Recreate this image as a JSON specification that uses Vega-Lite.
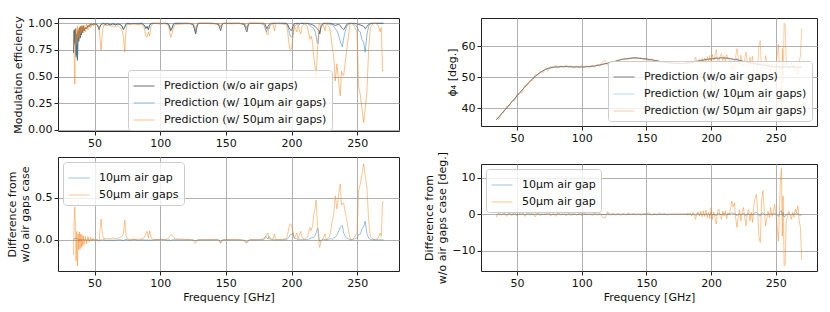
{
"$schema": "https://vega.github.io/schema/vega-lite/v6.json",
"padding": {"left": 6, "top": 15, "right": 0, "bottom": 0},
"background": "white",
"datasets": {
"eff": [
{"f":34,"a":0.72,"b":0.73,"c":0.9,"d":-0.01,"e":-0.18},
{"f":34.5,"a":0.94,"b":0.93,"c":0.7,"d":0.01,"e":0.24},
{"f":35,"a":0.82,"b":0.8,"c":0.43,"d":0.02,"e":0.39},
{"f":35.5,"a":0.95,"b":0.94,"c":0.86,"d":0.01,"e":0.09},
{"f":36,"a":0.7,"b":0.68,"c":0.95,"d":0.02,"e":-0.25},
{"f":36.5,"a":0.9,"b":0.88,"c":0.8,"d":0.02,"e":0.1},
{"f":37,"a":0.66,"b":0.65,"c":0.97,"d":0.01,"e":-0.31},
{"f":37.5,"a":0.93,"b":0.92,"c":0.86,"d":0.01,"e":0.07},
{"f":38,"a":0.83,"b":0.85,"c":0.95,"d":-0.02,"e":-0.12},
{"f":38.5,"a":0.96,"b":0.95,"c":0.87,"d":0.01,"e":0.09},
{"f":39,"a":0.86,"b":0.87,"c":0.97,"d":-0.01,"e":-0.11},
{"f":39.5,"a":0.97,"b":0.96,"c":0.9,"d":0.01,"e":0.07},
{"f":40,"a":0.89,"b":0.89,"c":0.98,"d":0,"e":-0.09},
{"f":40.5,"a":0.97,"b":0.97,"c":0.91,"d":0,"e":0.06},
{"f":41,"a":0.91,"b":0.91,"c":0.98,"d":0,"e":-0.07},
{"f":41.5,"a":0.975,"b":0.97,"c":0.93,"d":0.005,"e":0.045},
{"f":42,"a":0.93,"b":0.93,"c":0.985,"d":0,"e":-0.055},
{"f":43,"a":0.96,"b":0.955,"c":0.92,"d":0.005,"e":0.04},
{"f":44,"a":0.95,"b":0.955,"c":0.995,"d":-0.005,"e":-0.045},
{"f":45,"a":0.98,"b":0.975,"c":0.94,"d":0.005,"e":0.04},
{"f":46,"a":0.97,"b":0.975,"c":0.995,"d":-0.005,"e":-0.025},
{"f":47,"a":0.99,"b":0.985,"c":0.96,"d":0.005,"e":0.03},
{"f":48,"a":0.985,"b":0.99,"c":1,"d":-0.005,"e":-0.015},
{"f":49,"a":0.995,"b":0.99,"c":0.975,"d":0.005,"e":0.02},
{"f":50,"a":0.99,"b":0.995,"c":1,"d":-0.005,"e":-0.01},
{"f":51,"a":0.995,"b":1,"c":0.985,"d":-0.005,"e":0.01},
{"f":52,"a":0.985,"b":0.985,"c":0.99,"d":0,"e":-0.005},
{"f":53,"a":0.96,"b":0.965,"c":0.975,"d":-0.005,"e":-0.015},
{"f":53.5,"a":0.94,"b":0.95,"c":0.96,"d":-0.01,"e":-0.02},
{"f":54,"a":0.965,"b":0.97,"c":0.88,"d":-0.005,"e":0.085},
{"f":55,"a":0.99,"b":0.99,"c":0.745,"d":0,"e":0.245},
{"f":56,"a":0.995,"b":1,"c":0.93,"d":-0.005,"e":0.065},
{"f":57,"a":1,"b":0.995,"c":0.985,"d":0.005,"e":0.015},
{"f":58,"a":0.99,"b":0.995,"c":0.975,"d":-0.005,"e":0.015},
{"f":60,"a":0.995,"b":1,"c":0.98,"d":-0.005,"e":0.015},
{"f":62,"a":0.985,"b":0.99,"c":0.975,"d":-0.005,"e":0.01},
{"f":64,"a":0.995,"b":1,"c":0.975,"d":-0.005,"e":0.02},
{"f":66,"a":0.985,"b":0.99,"c":0.97,"d":-0.005,"e":0.015},
{"f":68,"a":0.995,"b":0.995,"c":0.975,"d":0,"e":0.02},
{"f":70,"a":0.985,"b":0.985,"c":0.955,"d":0,"e":0.03},
{"f":71,"a":0.97,"b":0.975,"c":0.93,"d":-0.005,"e":0.04},
{"f":72,"a":0.94,"b":0.95,"c":0.87,"d":-0.01,"e":0.07},
{"f":73,"a":0.965,"b":0.965,"c":0.73,"d":0,"e":0.235},
{"f":74,"a":0.995,"b":0.99,"c":0.94,"d":0.005,"e":0.055},
{"f":75,"a":1,"b":1,"c":0.99,"d":0,"e":0.01},
{"f":77,"a":0.995,"b":1,"c":0.99,"d":-0.005,"e":0.005},
{"f":80,"a":1,"b":0.995,"c":0.995,"d":0.005,"e":0.005},
{"f":83,"a":0.995,"b":1,"c":0.99,"d":-0.005,"e":0.005},
{"f":86,"a":1,"b":1,"c":0.99,"d":0,"e":0.01},
{"f":88,"a":0.98,"b":0.98,"c":0.95,"d":0,"e":0.03},
{"f":89,"a":0.95,"b":0.955,"c":0.88,"d":-0.005,"e":0.07},
{"f":90,"a":0.97,"b":0.97,"c":0.87,"d":0,"e":0.1},
{"f":91,"a":0.94,"b":0.945,"c":0.92,"d":-0.005,"e":0.02},
{"f":92,"a":0.985,"b":0.985,"c":0.88,"d":0,"e":0.105},
{"f":93,"a":0.995,"b":1,"c":0.975,"d":-0.005,"e":0.02},
{"f":95,"a":1,"b":1,"c":1,"d":0,"e":0},
{"f":100,"a":1,"b":0.995,"c":1,"d":0.005,"e":0},
{"f":104,"a":1,"b":1,"c":0.995,"d":0,"e":0.005},
{"f":106,"a":0.995,"b":1,"c":0.985,"d":-0.005,"e":0.01},
{"f":107,"a":0.975,"b":0.975,"c":0.94,"d":0,"e":0.035},
{"f":108,"a":0.93,"b":0.94,"c":0.87,"d":-0.01,"e":0.06},
{"f":109,"a":0.955,"b":0.955,"c":0.905,"d":0,"e":0.05},
{"f":110,"a":0.99,"b":0.99,"c":0.95,"d":0,"e":0.04},
{"f":111,"a":1,"b":1,"c":0.99,"d":0,"e":0.01},
{"f":114,"a":1,"b":1,"c":0.99,"d":0,"e":0.01},
{"f":118,"a":1,"b":1,"c":0.995,"d":0,"e":0.005},
{"f":122,"a":1,"b":1,"c":0.995,"d":0,"e":0.005},
{"f":125,"a":0.99,"b":0.99,"c":1,"d":0,"e":-0.01},
{"f":126,"a":0.95,"b":0.96,"c":0.98,"d":-0.01,"e":-0.03},
{"f":127,"a":0.9,"b":0.91,"c":0.94,"d":-0.01,"e":-0.04},
{"f":128,"a":0.97,"b":0.975,"c":0.99,"d":-0.005,"e":-0.02},
{"f":129,"a":1,"b":1,"c":1,"d":0,"e":0},
{"f":135,"a":1,"b":1,"c":1,"d":0,"e":0},
{"f":140,"a":1,"b":1,"c":0.995,"d":0,"e":0.005},
{"f":144,"a":0.995,"b":0.99,"c":1,"d":0.005,"e":-0.005},
{"f":145,"a":0.97,"b":0.975,"c":0.99,"d":-0.005,"e":-0.02},
{"f":146,"a":0.93,"b":0.965,"c":0.97,"d":-0.035,"e":-0.04},
{"f":147,"a":0.98,"b":0.985,"c":1,"d":-0.005,"e":-0.02},
{"f":148,"a":1,"b":1,"c":1,"d":0,"e":0},
{"f":155,"a":1,"b":1,"c":0.995,"d":0,"e":0.005},
{"f":160,"a":1,"b":1,"c":1,"d":0,"e":0},
{"f":164,"a":0.99,"b":0.995,"c":1,"d":-0.005,"e":-0.01},
{"f":165,"a":0.95,"b":0.97,"c":0.985,"d":-0.02,"e":-0.035},
{"f":166,"a":0.92,"b":0.95,"c":0.96,"d":-0.03,"e":-0.04},
{"f":167,"a":0.98,"b":0.99,"c":1,"d":-0.01,"e":-0.02},
{"f":168,"a":1,"b":1,"c":1,"d":0,"e":0},
{"f":175,"a":1,"b":1,"c":1,"d":0,"e":0},
{"f":179,"a":1,"b":0.99,"c":1,"d":0.01,"e":0},
{"f":180,"a":0.99,"b":0.95,"c":0.97,"d":0.04,"e":0.02},
{"f":181,"a":0.95,"b":0.92,"c":0.9,"d":0.03,"e":0.05},
{"f":182,"a":0.97,"b":0.96,"c":0.89,"d":0.01,"e":0.08},
{"f":183,"a":0.99,"b":0.95,"c":0.98,"d":0.04,"e":0.01},
{"f":184,"a":1,"b":0.99,"c":1,"d":0.01,"e":0},
{"f":186,"a":1,"b":1,"c":0.99,"d":0,"e":0.01},
{"f":187,"a":1,"b":1,"c":0.93,"d":0,"e":0.07},
{"f":188,"a":1,"b":1,"c":1,"d":0,"e":0},
{"f":192,"a":1,"b":1,"c":0.995,"d":0,"e":0.005},
{"f":196,"a":1,"b":1,"c":0.99,"d":0,"e":0.01},
{"f":197,"a":0.99,"b":0.98,"c":0.93,"d":0.01,"e":0.06},
{"f":198,"a":0.96,"b":0.93,"c":0.81,"d":0.03,"e":0.15},
{"f":199,"a":0.94,"b":0.88,"c":0.75,"d":0.06,"e":0.19},
{"f":200,"a":0.93,"b":0.87,"c":0.76,"d":0.06,"e":0.17},
{"f":201,"a":0.97,"b":0.89,"c":0.86,"d":0.08,"e":0.11},
{"f":202,"a":0.995,"b":0.97,"c":0.98,"d":0.025,"e":0.015},
{"f":204,"a":1,"b":0.99,"c":0.92,"d":0.01,"e":0.08},
{"f":205,"a":1,"b":1,"c":0.99,"d":0,"e":0.01},
{"f":206,"a":0.995,"b":0.99,"c":0.93,"d":0.005,"e":0.065},
{"f":207,"a":1,"b":1,"c":0.9,"d":0,"e":0.1},
{"f":208,"a":1,"b":1,"c":0.97,"d":0,"e":0.03},
{"f":210,"a":1,"b":0.995,"c":1,"d":0.005,"e":0},
{"f":212,"a":1,"b":1,"c":0.97,"d":0,"e":0.03},
{"f":214,"a":0.995,"b":0.98,"c":0.85,"d":0.015,"e":0.145},
{"f":215,"a":0.99,"b":0.97,"c":0.88,"d":0.02,"e":0.11},
{"f":216,"a":0.985,"b":0.96,"c":0.82,"d":0.025,"e":0.165},
{"f":217,"a":0.98,"b":0.95,"c":0.68,"d":0.03,"e":0.3},
{"f":218,"a":0.97,"b":0.92,"c":0.58,"d":0.05,"e":0.39},
{"f":218.7,"a":0.96,"b":0.88,"c":0.49,"d":0.08,"e":0.47},
{"f":219.5,"a":0.95,"b":0.82,"c":0.7,"d":0.13,"e":0.25},
{"f":220.2,"a":0.94,"b":0.81,"c":0.85,"d":0.13,"e":0.09},
{"f":221,"a":0.93,"b":0.92,"c":1,"d":0.01,"e":-0.07},
{"f":221.5,"a":0.9,"b":0.92,"c":0.99,"d":-0.02,"e":-0.09},
{"f":222.5,"a":0.97,"b":0.98,"c":0.98,"d":-0.01,"e":-0.01},
{"f":224,"a":1,"b":0.99,"c":0.99,"d":0.01,"e":0.01},
{"f":225.5,"a":1,"b":1,"c":0.93,"d":0,"e":0.07},
{"f":226.5,"a":1,"b":1,"c":1,"d":0,"e":0},
{"f":229,"a":1,"b":0.99,"c":0.96,"d":0.01,"e":0.04},
{"f":230,"a":1,"b":0.985,"c":0.88,"d":0.015,"e":0.12},
{"f":231,"a":0.995,"b":0.99,"c":0.77,"d":0.005,"e":0.225},
{"f":232,"a":0.99,"b":0.97,"c":0.7,"d":0.02,"e":0.29},
{"f":233.3,"a":0.98,"b":0.95,"c":0.46,"d":0.03,"e":0.52},
{"f":234.5,"a":0.985,"b":0.93,"c":0.62,"d":0.055,"e":0.365},
{"f":235.5,"a":0.99,"b":0.9,"c":0.5,"d":0.09,"e":0.49},
{"f":236.5,"a":0.985,"b":0.86,"c":0.38,"d":0.125,"e":0.605},
{"f":237.1,"a":0.98,"b":0.83,"c":0.32,"d":0.15,"e":0.66},
{"f":238,"a":0.96,"b":0.8,"c":0.55,"d":0.16,"e":0.41},
{"f":238.7,"a":0.95,"b":0.78,"c":0.52,"d":0.17,"e":0.43},
{"f":239.7,"a":0.94,"b":0.86,"c":0.51,"d":0.08,"e":0.43},
{"f":241,"a":0.965,"b":0.93,"c":0.65,"d":0.035,"e":0.315},
{"f":242,"a":0.99,"b":0.97,"c":0.75,"d":0.02,"e":0.24},
{"f":243.5,"a":1,"b":0.99,"c":0.9,"d":0.01,"e":0.1},
{"f":244.5,"a":1,"b":1,"c":0.99,"d":0,"e":0.01},
{"f":246,"a":1,"b":1,"c":1,"d":0,"e":0},
{"f":248,"a":1,"b":0.99,"c":0.97,"d":0.01,"e":0.03},
{"f":249.8,"a":0.995,"b":0.97,"c":0.915,"d":0.025,"e":0.08},
{"f":250.5,"a":0.99,"b":0.95,"c":0.65,"d":0.04,"e":0.34},
{"f":251,"a":0.99,"b":0.93,"c":0.41,"d":0.06,"e":0.58},
{"f":252.3,"a":0.985,"b":0.92,"c":0.33,"d":0.065,"e":0.655},
{"f":253.6,"a":0.98,"b":0.85,"c":0.2,"d":0.13,"e":0.78},
{"f":254.9,"a":0.97,"b":0.82,"c":0.07,"d":0.15,"e":0.9},
{"f":256.1,"a":0.95,"b":0.73,"c":0.2,"d":0.22,"e":0.75},
{"f":257.4,"a":0.97,"b":0.9,"c":0.36,"d":0.07,"e":0.61},
{"f":258.7,"a":0.99,"b":0.97,"c":0.76,"d":0.02,"e":0.23},
{"f":260,"a":1,"b":0.995,"c":0.96,"d":0.005,"e":0.04},
{"f":262,"a":1,"b":1,"c":0.995,"d":0,"e":0.005},
{"f":264,"a":1,"b":1,"c":1,"d":0,"e":0},
{"f":266,"a":1,"b":1,"c":0.98,"d":0,"e":0.02},
{"f":267.5,"a":1,"b":1,"c":0.92,"d":0,"e":0.08},
{"f":268.3,"a":1,"b":1,"c":0.96,"d":0,"e":0.04},
{"f":269.3,"a":1,"b":1,"c":0.55,"d":0,"e":0.45},
{"f":270,"a":1,"b":1,"c":0.56,"d":0,"e":0.44}
],
"phi": [
{"f":34,"p":36.3,"q":36.5,"r":37.2,"s":-0.2,"t":-0.9},
{"f":36,"p":37.2,"q":37.1,"r":36.4,"s":0.1,"t":0.8},
{"f":38,"p":38.2,"q":38.3,"r":38.5,"s":-0.1,"t":-0.3},
{"f":40,"p":39.2,"q":39.1,"r":38.7,"s":0.1,"t":0.5},
{"f":42,"p":40.1,"q":40.2,"r":40.7,"s":-0.1,"t":-0.6},
{"f":44,"p":41.1,"q":41.0,"r":40.8,"s":0.1,"t":0.3},
{"f":46,"p":42.1,"q":42.1,"r":42.5,"s":0,"t":-0.4},
{"f":48,"p":43.0,"q":42.9,"r":42.4,"s":0.1,"t":0.6},
{"f":50,"p":44.0,"q":44.1,"r":44.5,"s":-0.1,"t":-0.5},
{"f":52,"p":45.0,"q":45.0,"r":44.8,"s":0,"t":0.2},
{"f":54,"p":45.9,"q":45.8,"r":45.1,"s":0.1,"t":0.8},
{"f":56,"p":46.9,"q":47.0,"r":47.5,"s":-0.1,"t":-0.6},
{"f":58,"p":47.8,"q":47.8,"r":47.4,"s":0,"t":0.4},
{"f":60,"p":48.7,"q":48.6,"r":49.0,"s":0.1,"t":-0.3},
{"f":62,"p":49.5,"q":49.6,"r":49.0,"s":-0.1,"t":0.5},
{"f":64,"p":50.3,"q":50.3,"r":51.0,"s":0,"t":-0.7},
{"f":66,"p":51.0,"q":50.9,"r":50.7,"s":0.1,"t":0.3},
{"f":68,"p":51.6,"q":51.6,"r":52.0,"s":0,"t":-0.4},
{"f":70,"p":52.1,"q":52.2,"r":51.5,"s":-0.1,"t":0.6},
{"f":72,"p":52.6,"q":52.6,"r":52.8,"s":0,"t":-0.2},
{"f":74,"p":52.9,"q":52.8,"r":52.0,"s":0.1,"t":0.9},
{"f":76,"p":53.1,"q":53.1,"r":53.6,"s":0,"t":-0.5},
{"f":78,"p":53.3,"q":53.4,"r":53.0,"s":-0.1,"t":0.3},
{"f":80,"p":53.4,"q":53.4,"r":54.0,"s":0,"t":-0.6},
{"f":82,"p":53.4,"q":53.3,"r":53.0,"s":0.1,"t":0.4},
{"f":84,"p":53.5,"q":53.5,"r":53.8,"s":0,"t":-0.3},
{"f":86,"p":53.5,"q":53.6,"r":53.0,"s":-0.1,"t":0.5},
{"f":88,"p":53.5,"q":53.5,"r":54.0,"s":0,"t":-0.5},
{"f":90,"p":53.5,"q":53.4,"r":53.3,"s":0.1,"t":0.2},
{"f":92,"p":53.4,"q":53.4,"r":53.8,"s":0,"t":-0.4},
{"f":94,"p":53.4,"q":53.4,"r":52.9,"s":0,"t":0.5},
{"f":96,"p":53.4,"q":53.5,"r":53.7,"s":-0.1,"t":-0.3},
{"f":98,"p":53.4,"q":53.4,"r":53.0,"s":0,"t":0.4},
{"f":100,"p":53.4,"q":53.3,"r":53.9,"s":0.1,"t":-0.5},
{"f":102,"p":53.4,"q":53.4,"r":53.1,"s":0,"t":0.3},
{"f":104,"p":53.5,"q":53.5,"r":53.7,"s":0,"t":-0.2},
{"f":106,"p":53.5,"q":53.6,"r":53.0,"s":-0.1,"t":0.5},
{"f":108,"p":53.6,"q":53.6,"r":54.0,"s":0,"t":-0.4},
{"f":110,"p":53.7,"q":53.6,"r":53.4,"s":0.1,"t":0.3},
{"f":112,"p":53.9,"q":53.9,"r":54.2,"s":0,"t":-0.3},
{"f":114,"p":54.0,"q":54.0,"r":53.6,"s":0,"t":0.4},
{"f":116,"p":54.2,"q":54.3,"r":55.0,"s":-0.1,"t":-0.8},
{"f":118,"p":54.4,"q":54.5,"r":55.5,"s":-0.1,"t":-1.1},
{"f":120,"p":54.6,"q":54.5,"r":53.9,"s":0.1,"t":0.7},
{"f":122,"p":54.8,"q":54.8,"r":55.1,"s":0,"t":-0.3},
{"f":124,"p":55.0,"q":55.0,"r":54.7,"s":0,"t":0.3},
{"f":126,"p":55.2,"q":55.2,"r":55.4,"s":0,"t":-0.2},
{"f":128,"p":55.5,"q":55.5,"r":55.3,"s":0,"t":0.2},
{"f":130,"p":55.7,"q":55.7,"r":56.0,"s":0,"t":-0.3},
{"f":132,"p":55.9,"q":55.9,"r":55.7,"s":0,"t":0.2},
{"f":134,"p":56.0,"q":56.0,"r":56.2,"s":0,"t":-0.2},
{"f":136,"p":56.1,"q":56.1,"r":55.8,"s":0,"t":0.3},
{"f":138,"p":56.2,"q":56.2,"r":56.3,"s":0,"t":-0.1},
{"f":140,"p":56.3,"q":56.3,"r":56.1,"s":0,"t":0.2},
{"f":142,"p":56.3,"q":56.3,"r":56.5,"s":0,"t":-0.2},
{"f":144,"p":56.2,"q":56.2,"r":56.1,"s":0,"t":0.1},
{"f":146,"p":56.1,"q":56.1,"r":56.4,"s":0,"t":-0.3},
{"f":148,"p":56.0,"q":56.0,"r":55.8,"s":0,"t":0.2},
{"f":150,"p":56.0,"q":56.0,"r":55.9,"s":0,"t":0.1},
{"f":152,"p":55.8,"q":55.8,"r":55.4,"s":0,"t":0.4},
{"f":154,"p":55.7,"q":55.7,"r":56.0,"s":0,"t":-0.3},
{"f":156,"p":55.5,"q":55.5,"r":55.3,"s":0,"t":0.2},
{"f":158,"p":55.4,"q":55.4,"r":55.6,"s":0,"t":-0.2},
{"f":160,"p":55.2,"q":55.2,"r":54.9,"s":0,"t":0.3},
{"f":162,"p":55.0,"q":55.0,"r":55.1,"s":0,"t":-0.1},
{"f":164,"p":54.9,"q":54.9,"r":54.7,"s":0,"t":0.2},
{"f":166,"p":54.8,"q":54.8,"r":55.0,"s":0,"t":-0.2},
{"f":168,"p":54.7,"q":54.7,"r":54.7,"s":0,"t":0},
{"f":170,"p":54.6,"q":54.6,"r":54.6,"s":0,"t":0},
{"f":172,"p":54.5,"q":54.5,"r":54.5,"s":0,"t":0},
{"f":174,"p":54.5,"q":54.5,"r":54.5,"s":0,"t":0},
{"f":176,"p":54.5,"q":54.5,"r":54.5,"s":0,"t":0},
{"f":178,"p":54.5,"q":54.5,"r":54.5,"s":0,"t":0},
{"f":180,"p":54.6,"q":54.6,"r":54.5,"s":0,"t":0.1},
{"f":181,"p":54.6,"q":54.5,"r":54.9,"s":0.1,"t":-0.3},
{"f":182,"p":54.7,"q":54.8,"r":54.3,"s":-0.1,"t":0.4},
{"f":183,"p":54.7,"q":54.6,"r":54.9,"s":0.1,"t":-0.2},
{"f":184,"p":54.8,"q":54.8,"r":54.5,"s":0,"t":0.3},
{"f":185,"p":54.9,"q":55.0,"r":55.4,"s":-0.1,"t":-0.5},
{"f":186,"p":54.9,"q":54.8,"r":54.4,"s":0.1,"t":0.5},
{"f":187,"p":55.0,"q":55.0,"r":55.4,"s":0,"t":-0.4},
{"f":188,"p":55.1,"q":55.4,"r":56.5,"s":-0.3,"t":-1.4},
{"f":189,"p":55.2,"q":55.1,"r":54.9,"s":0.1,"t":0.3},
{"f":190,"p":55.3,"q":55.1,"r":54.7,"s":0.2,"t":0.6},
{"f":191,"p":55.4,"q":55.5,"r":55.9,"s":-0.1,"t":-0.5},
{"f":192,"p":55.4,"q":55.2,"r":54.6,"s":0.2,"t":0.8},
{"f":193,"p":55.5,"q":55.7,"r":56.2,"s":-0.2,"t":-0.7},
{"f":194,"p":55.6,"q":55.5,"r":54.7,"s":0.1,"t":0.9},
{"f":195,"p":55.7,"q":55.9,"r":56.3,"s":-0.2,"t":-0.6},
{"f":196,"p":55.8,"q":55.6,"r":54.7,"s":0.2,"t":1.1},
{"f":197,"p":55.8,"q":55.9,"r":56.7,"s":-0.1,"t":-0.9},
{"f":198,"p":55.9,"q":55.8,"r":55.4,"s":0.1,"t":0.5},
{"f":199,"p":55.9,"q":56.2,"r":57.1,"s":-0.3,"t":-1.2},
{"f":200,"p":56.0,"q":55.6,"r":54.2,"s":0.4,"t":1.8},
{"f":201,"p":56.0,"q":56.3,"r":57.4,"s":-0.3,"t":-1.4},
{"f":202,"p":56.1,"q":56.0,"r":55.5,"s":0.1,"t":0.6},
{"f":203,"p":56.1,"q":56.3,"r":57.1,"s":-0.2,"t":-1.0},
{"f":204,"p":56.2,"q":56.6,"r":58.9,"s":-0.4,"t":-2.7},
{"f":205,"p":56.2,"q":56.0,"r":55.4,"s":0.2,"t":0.8},
{"f":206,"p":56.2,"q":55.9,"r":54.8,"s":0.3,"t":1.4},
{"f":207,"p":56.3,"q":56.4,"r":56.9,"s":-0.1,"t":-0.6},
{"f":208,"p":56.3,"q":56.5,"r":57.7,"s":-0.2,"t":-1.4},
{"f":209,"p":56.3,"q":56.1,"r":55.4,"s":0.2,"t":0.9},
{"f":210,"p":56.3,"q":56.3,"r":56.8,"s":0,"t":-0.5},
{"f":211,"p":56.3,"q":56.1,"r":55.3,"s":0.2,"t":1.0},
{"f":212,"p":56.2,"q":56.4,"r":57.4,"s":-0.2,"t":-1.2},
{"f":213,"p":56.2,"q":56.1,"r":55.8,"s":0.1,"t":0.4},
{"f":214,"p":56.1,"q":56.1,"r":56.3,"s":0,"t":-0.2},
{"f":215,"p":56.1,"q":55.9,"r":54.6,"s":0.2,"t":1.5},
{"f":216,"p":56.0,"q":55.6,"r":52.4,"s":0.4,"t":3.6},
{"f":217,"p":55.9,"q":55.7,"r":53.9,"s":0.2,"t":2.0},
{"f":218,"p":55.8,"q":55.5,"r":52.7,"s":0.3,"t":3.1},
{"f":219,"p":55.8,"q":55.9,"r":56.8,"s":-0.1,"t":-1.0},
{"f":220,"p":55.7,"q":56.1,"r":59.3,"s":-0.4,"t":-3.6},
{"f":221,"p":55.6,"q":55.6,"r":56.1,"s":0,"t":-0.5},
{"f":222,"p":55.5,"q":55.3,"r":54.3,"s":0.2,"t":1.2},
{"f":223,"p":55.4,"q":55.7,"r":57.2,"s":-0.3,"t":-1.8},
{"f":224,"p":55.3,"q":55.2,"r":54.6,"s":0.1,"t":0.7},
{"f":225,"p":55.2,"q":54.9,"r":53.4,"s":0.3,"t":1.8},
{"f":226,"p":55.1,"q":55.2,"r":55.9,"s":-0.1,"t":-0.8},
{"f":227,"p":55.0,"q":55.4,"r":58.2,"s":-0.4,"t":-3.2},
{"f":228,"p":54.9,"q":54.8,"r":54.5,"s":0.1,"t":0.4},
{"f":229,"p":54.9,"q":54.7,"r":53.7,"s":0.2,"t":1.2},
{"f":230,"p":54.8,"q":55.1,"r":56.6,"s":-0.3,"t":-1.8},
{"f":231,"p":54.7,"q":54.6,"r":54.1,"s":0.1,"t":0.6},
{"f":232,"p":54.6,"q":54.9,"r":56.8,"s":-0.3,"t":-2.2},
{"f":233,"p":54.5,"q":54.2,"r":52.0,"s":0.3,"t":2.5},
{"f":234,"p":54.5,"q":54.1,"r":50.0,"s":0.4,"t":4.5},
{"f":235,"p":54.4,"q":53.9,"r":49.0,"s":0.5,"t":5.4},
{"f":236,"p":54.3,"q":54.2,"r":53.3,"s":0.1,"t":1.0},
{"f":237,"p":54.2,"q":54.6,"r":60.6,"s":-0.4,"t":-6.4},
{"f":238,"p":54.1,"q":54.6,"r":61.8,"s":-0.5,"t":-7.7},
{"f":239,"p":54.1,"q":53.8,"r":50.5,"s":0.3,"t":3.6},
{"f":240,"p":54.0,"q":53.6,"r":47.6,"s":0.4,"t":6.4},
{"f":241,"p":53.9,"q":53.8,"r":52.4,"s":0.1,"t":1.5},
{"f":242,"p":53.9,"q":54.2,"r":57.1,"s":-0.3,"t":-3.2},
{"f":243,"p":53.8,"q":53.9,"r":55.2,"s":-0.1,"t":-1.4},
{"f":244,"p":53.7,"q":53.6,"r":52.9,"s":0.1,"t":0.8},
{"f":245,"p":53.7,"q":53.8,"r":54.6,"s":-0.1,"t":-0.9},
{"f":246,"p":53.6,"q":53.4,"r":51.8,"s":0.2,"t":1.8},
{"f":247,"p":53.6,"q":53.6,"r":54.2,"s":0,"t":-0.6},
{"f":248,"p":53.5,"q":53.4,"r":53.1,"s":0.1,"t":0.4},
{"f":249,"p":53.5,"q":53.2,"r":50.8,"s":0.3,"t":2.7},
{"f":250,"p":53.5,"q":53.4,"r":53.0,"s":0.1,"t":0.5},
{"f":251,"p":53.5,"q":53.8,"r":57.1,"s":-0.3,"t":-3.6},
{"f":252,"p":53.4,"q":54.0,"r":60.7,"s":-0.6,"t":-7.3},
{"f":253,"p":53.4,"q":53.1,"r":50.4,"s":0.3,"t":3.0},
{"f":253.5,"p":53.4,"q":52.6,"r":44.3,"s":0.8,"t":9.1},
{"f":254.3,"p":53.4,"q":52.4,"r":40.9,"s":1.0,"t":12.5},
{"f":255,"p":53.4,"q":53.8,"r":59.4,"s":-0.4,"t":-6.0},
{"f":255.6,"p":53.4,"q":52.9,"r":48.4,"s":0.5,"t":5.0},
{"f":256.4,"p":53.4,"q":54.2,"r":67.5,"s":-0.8,"t":-14.1},
{"f":257.2,"p":53.4,"q":54.0,"r":67.1,"s":-0.6,"t":-13.7},
{"f":258,"p":53.4,"q":53.5,"r":55.4,"s":-0.1,"t":-2.0},
{"f":259,"p":53.4,"q":53.4,"r":53.9,"s":0,"t":-0.5},
{"f":260,"p":53.4,"q":53.2,"r":52.6,"s":0.2,"t":0.8},
{"f":261,"p":53.4,"q":53.5,"r":53.7,"s":-0.1,"t":-0.3},
{"f":262,"p":53.4,"q":53.6,"r":54.8,"s":-0.2,"t":-1.4},
{"f":263,"p":53.4,"q":53.3,"r":52.9,"s":0.1,"t":0.5},
{"f":264,"p":53.4,"q":53.5,"r":54.2,"s":-0.1,"t":-0.8},
{"f":265,"p":53.4,"q":53.2,"r":52.0,"s":0.2,"t":1.4},
{"f":266,"p":53.3,"q":53.3,"r":53.0,"s":0,"t":0.3},
{"f":267,"p":53.3,"q":53.0,"r":51.0,"s":0.3,"t":2.3},
{"f":268,"p":53.3,"q":53.5,"r":55.1,"s":-0.2,"t":-1.8},
{"f":269,"p":53.3,"q":53.6,"r":56.9,"s":-0.3,"t":-3.6},
{"f":270,"p":53.3,"q":53.4,"r":65.8,"s":-0.1,"t":-12.5}
]
},
"config": {
  "font": "DejaVu Sans",
  "view": {"stroke": "#222222", "strokeWidth": 1},
  "axis": {"labelFont": "DejaVu Sans", "labelFontSize": 11, "labelColor": "#111111", "titleFont": "DejaVu Sans", "titleFontSize": 11, "titleFontWeight": "normal", "titleColor": "#111111", "tickColor": "#222222", "tickSize": 4, "labelPadding": 2, "domain": false, "gridColor": "#b0b0b0", "gridWidth": 1, "titlePadding": 4, "labelFlush": false, "titleLineHeight": 13},
  "legend": {"labelFont": "DejaVu Sans", "labelFontSize": 11, "labelColor": "#111111", "symbolSize": 440, "symbolStrokeWidth": 1.5, "padding": 5, "rowPadding": 1, "fillColor": "rgba(255,255,255,0.8)", "strokeColor": "#cccccc", "cornerRadius": 3, "labelOffset": 9, "offset": 5, "labelLimit": 300},
  "line": {"strokeWidth": 1}
},
"resolve": {"scale": {"color": "independent"}, "legend": {"color": "independent"}},
"spacing": 23,
"hconcat": [
  {
    "spacing": 7,
    "resolve": {"scale": {"color": "independent"}, "legend": {"color": "independent"}},
    "vconcat": [
      {
        "width": 341, "height": 113,
        "data": {"name": "eff"},
        "transform": [{"fold": ["a", "b", "c"], "as": ["k", "v"]}],
        "mark": {"type": "line", "strokeWidth": 1},
        "encoding": {
          "x": {"field": "f", "type": "quantitative", "scale": {"domain": [22.2, 281.8], "nice": false, "zero": false}, "axis": {"values": [50, 100, 150, 200, 250], "title": null}},
          "y": {"field": "v", "type": "quantitative", "scale": {"domain": [-0.01, 1.05], "nice": false, "zero": false}, "axis": {"values": [0, 0.25, 0.5, 0.75, 1], "format": ".2f", "title": "Modulation efficiency"}},
          "color": {"field": "k", "type": "nominal", "scale": {"domain": ["a", "b", "c"], "range": ["#6f6f6f", "rgba(31,119,180,0.5)", "rgba(255,127,14,0.5)"]}, "legend": {"title": null, "orient": "none", "legendX": 70, "legendY": 52, "labelExpr": "datum.value == 'a' ? 'Prediction (w/o air gaps)' : datum.value == 'b' ? 'Prediction (w/ 10μm air gaps)' : 'Prediction (w/ 50μm air gaps)'"}}
        }
      },
      {
        "width": 341, "height": 114,
        "data": {"name": "eff"},
        "transform": [{"fold": ["d", "e"], "as": ["k", "v"]}],
        "mark": {"type": "line", "strokeWidth": 1},
        "encoding": {
          "x": {"field": "f", "type": "quantitative", "scale": {"domain": [22.2, 281.8], "nice": false, "zero": false}, "axis": {"values": [50, 100, 150, 200, 250], "title": "Frequency [GHz]", "titlePadding": 3}},
          "y": {"field": "v", "type": "quantitative", "scale": {"domain": [-0.37, 0.98], "nice": false, "zero": false}, "axis": {"values": [0, 0.5], "format": ".1f", "title": ["Difference from", "w/o air gaps case"]}},
          "color": {"field": "k", "type": "nominal", "scale": {"domain": ["d", "e"], "range": ["rgba(31,119,180,0.45)", "rgba(255,127,14,0.45)"]}, "legend": {"title": null, "orient": "top-left", "labelExpr": "datum.value == 'd' ? '10μm air gap' : '50μm air gaps'"}}
        }
      }
    ]
  },
  {
    "spacing": 6,
    "resolve": {"scale": {"color": "independent"}, "legend": {"color": "independent"}},
    "vconcat": [
      {
        "width": 336, "height": 108,
        "data": {"name": "phi"},
        "transform": [{"fold": ["p", "q", "r"], "as": ["k", "v"]}],
        "mark": {"type": "line", "strokeWidth": 1},
        "encoding": {
          "x": {"field": "f", "type": "quantitative", "scale": {"domain": [22.2, 281.8], "nice": false, "zero": false}, "axis": {"values": [50, 100, 150, 200, 250], "title": null}},
          "y": {"field": "v", "type": "quantitative", "scale": {"domain": [34.3, 69.2], "nice": false, "zero": false}, "axis": {"values": [40, 50, 60], "title": "ϕ₄ [deg.]"}},
          "color": {"field": "k", "type": "nominal", "scale": {"domain": ["p", "q", "r"], "range": ["#7a7a7a", "rgba(31,119,180,0.3)", "rgba(255,127,14,0.4)"]}, "legend": {"title": null, "orient": "bottom-right", "labelExpr": "datum.value == 'p' ? 'Prediction (w/o air gaps)' : datum.value == 'q' ? 'Prediction (w/ 10μm air gaps)' : 'Prediction (w/ 50μm air gaps)'"}}
        }
      },
      {
        "width": 336, "height": 107,
        "data": {"name": "phi"},
        "transform": [{"fold": ["s", "t"], "as": ["k", "v"]}],
        "mark": {"type": "line", "strokeWidth": 1},
        "encoding": {
          "x": {"field": "f", "type": "quantitative", "scale": {"domain": [22.2, 281.8], "nice": false, "zero": false}, "axis": {"values": [50, 100, 150, 200, 250], "title": "Frequency [GHz]", "titlePadding": 3}},
          "y": {"field": "v", "type": "quantitative", "scale": {"domain": [-15.5, 13.7], "nice": false, "zero": false}, "axis": {"values": [-10, 0, 10], "format": "d", "title": ["Difference from", "w/o air gaps case [deg.]"]}},
          "color": {"field": "k", "type": "nominal", "scale": {"domain": ["s", "t"], "range": ["rgba(31,119,180,0.45)", "rgba(255,127,14,0.45)"]}, "legend": {"title": null, "orient": "top-left", "labelExpr": "datum.value == 's' ? '10μm air gap' : '50μm air gap'"}}
        }
      }
    ]
  }
]
}
